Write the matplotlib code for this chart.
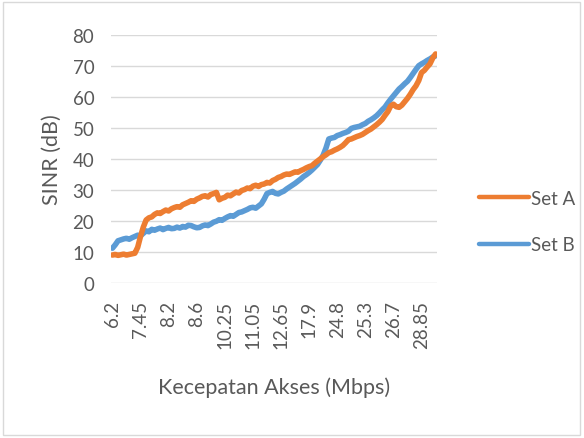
import matplotlib
matplotlib.use("Agg")
import matplotlib.pyplot as plt
from matplotlib.patches import Rectangle

plt.rcParams['font.family'] = ['Lato', 'DejaVu Sans']

tick_labels = ["6.2", "7.45", "8.2", "8.6", "10.25", "11.05", "12.65",
               "17.9", "24.8", "25.3", "26.7", "28.85"]

set_a = [9.0, 9.2, 8.9, 9.1, 9.3, 9.0, 9.2, 9.4, 9.6, 11.5,
         15.0, 18.0, 20.3, 21.0, 21.3, 22.1, 22.6, 22.4, 23.0, 23.5,
         23.2, 23.9, 24.3, 24.6, 24.4, 25.2, 25.6, 26.0, 26.5, 26.3,
         27.0, 27.4, 27.9, 28.1, 27.7, 28.5, 28.8, 29.2, 26.8, 27.3,
         27.6, 28.3, 28.1, 28.7, 29.3, 29.0, 29.8, 30.1, 30.6, 30.4,
         31.2, 31.5, 31.1, 31.7, 31.9, 32.4, 32.2, 33.0, 33.4, 34.0,
         34.3, 34.8, 35.1, 35.0, 35.4, 35.8, 35.7, 36.2, 36.6, 37.1,
         37.5, 37.8, 38.6, 39.3, 40.0, 40.7, 41.3, 42.0, 42.3, 42.8,
         43.2, 43.7, 44.3, 45.2, 46.2, 46.4, 46.8, 47.2, 47.5, 47.9,
         48.5, 49.1, 49.6, 50.3, 51.0, 51.8, 52.7, 54.0, 55.2, 57.0,
         57.6, 56.8, 56.6, 57.3, 58.4, 59.5, 60.8, 62.3, 63.5, 65.2,
         67.8, 68.5, 69.6, 70.6, 72.5, 73.8]

set_b = [11.2, 12.3, 13.6, 13.9, 14.2, 14.4, 14.1, 14.6, 15.0, 15.4,
         15.2, 16.0, 16.8, 16.5, 17.3, 17.0, 17.4, 17.7, 17.2, 17.6,
         17.9, 17.5, 17.6, 18.0, 17.7, 18.2, 18.0, 18.6, 18.5, 18.1,
         17.8, 17.9, 18.4, 18.7, 18.5, 19.0, 19.6, 19.9, 20.4, 20.2,
         20.8, 21.3, 21.7, 21.5, 22.1, 22.7, 22.9, 23.3, 23.7, 24.2,
         24.4, 24.1, 24.8, 25.5, 27.0, 28.8, 29.2, 29.5, 28.9, 28.7,
         29.2, 29.6, 30.3, 30.9, 31.5, 32.1, 32.8, 33.5, 34.3, 34.9,
         35.6, 36.4, 37.3, 38.2, 39.6, 41.2, 43.5, 46.4, 46.7, 46.9,
         47.5, 47.8, 48.2, 48.5, 48.9, 49.8, 50.1, 50.3, 50.5, 51.0,
         51.4, 52.1, 52.6, 53.2, 53.9, 54.8, 55.8, 56.7, 58.0, 59.2,
         60.3, 61.4, 62.5, 63.3, 64.2, 65.0, 66.2, 67.5, 68.8, 70.0,
         70.6, 71.1, 71.7, 72.2, 72.8, 73.2]

label_step = 10
y_ticks = [0, 10, 20, 30, 40, 50, 60, 70, 80]

n = len(set_a)
xs = list(range(n))

fig = plt.figure(figsize=(5.84, 4.39), dpi=100)
ax = fig.add_axes([111/584, 1-284/439, 326/584, (284-35.7)/439])

grid_c = '#D9D9D9'
text_c = '#595959'
for yv in y_ticks:
    ax.axhline(yv, color=grid_c, lw=1.0, zorder=0)

ax.plot(xs, set_a, color='#ED7D31', lw=4.0, solid_capstyle='round',
        solid_joinstyle='round', label='Set A', zorder=3)
ax.plot(xs, set_b, color='#5B9BD5', lw=4.0, solid_capstyle='round',
        solid_joinstyle='round', label='Set B', zorder=2)

ax.set_xlim(-0.5, n - 0.5)
ax.set_ylim(0, 80)
ax.set_yticks(y_ticks)
ax.set_xticks(list(range(0, n, label_step))[:len(tick_labels)])
ax.set_xticklabels(tick_labels, rotation=90)
for s in ax.spines.values():
    s.set_visible(False)
ax.tick_params(axis='both', length=0, colors=text_c, labelsize=13.5)
ax.tick_params(axis='x', pad=12)
ax.tick_params(axis='y', pad=12)

ax.set_xlabel('Kecepatan Akses (Mbps)', color=text_c, fontsize=15.5)
ax.set_ylabel('SINR (dB)', color=text_c, fontsize=15.5)
ax.xaxis.set_label_coords(0.5, -0.378)
ax.yaxis.set_label_coords(-0.151, 0.5)

leg = ax.legend(loc='center left', bbox_to_anchor=(462.5/584, 1-222.5/439),
                bbox_transform=fig.transFigure, frameon=False, fontsize=13.5,
                handlelength=2.65, handletextpad=0.1, labelspacing=1.58)
for t in leg.get_texts():
    t.set_color(text_c)
for h in leg.get_lines():
    h.set_linewidth(3.2)

fig.patches.append(Rectangle((3/584, 3/439), 577/584, 433/439, transform=fig.transFigure,
                             fill=False, edgecolor='#D9D9D9', lw=1.0))

fig.savefig('out.png', dpi=100)
